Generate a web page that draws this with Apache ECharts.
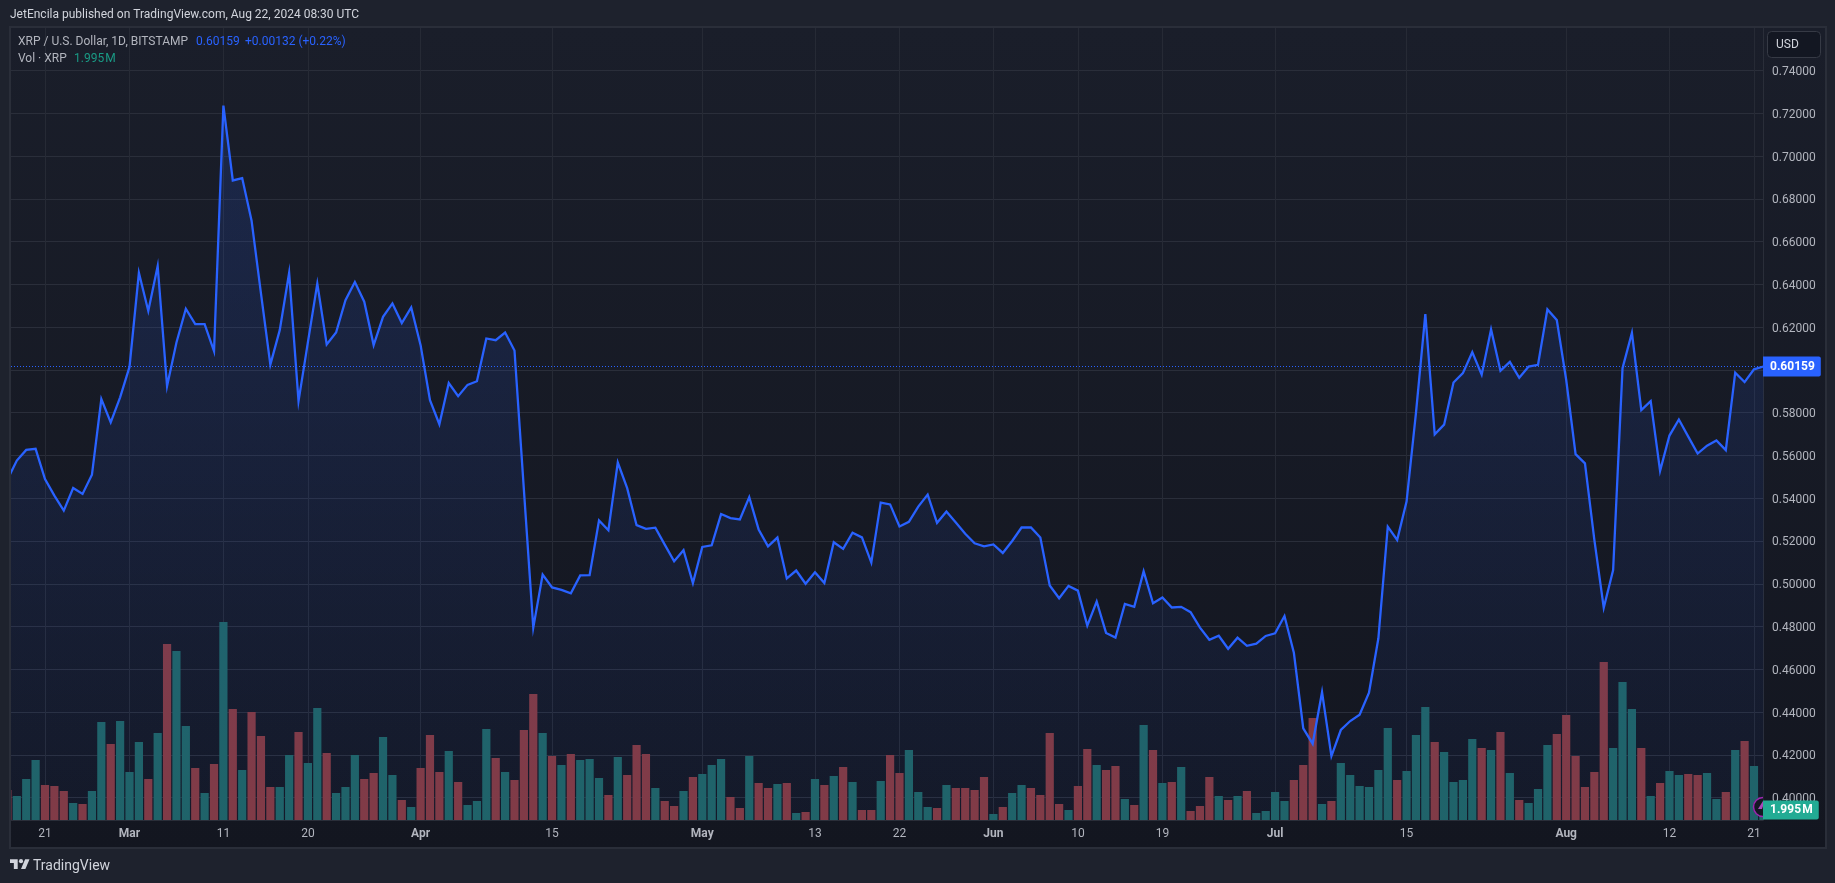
<!DOCTYPE html>
<html>
<head>
<meta charset="utf-8">
<style>html,body{margin:0;padding:0;background:#1e222d;overflow:hidden}#c{width:1835px;height:883px}</style>
<script src="https://cdn.jsdelivr.net/npm/echarts@6/dist/echarts.min.js"></script>
</head>
<body>
<div id="c"></div>
<script>
const startDate = '2024-02-17';
const closeFeb = [.5487,.5576,.5626,.5631,.5490,.5412,.5342,.5448,.5420,.5510,.5864,.5755,.5872];
const closeMar = [.6014,.6454,.6276,.6486,.5924,.6128,.6286,.6214,.6214,.6088,.7236,.6886,.6897,.6698,.6358,.6025,.6186,.6454,.5854,.6130,.6404,.6119,.6175,.6326,.6411,.6319,.6116,.6248,.6311,.6219,.6292];
const closeApr = [.6116,.5858,.5746,.5939,.5877,.5930,.5947,.6147,.6139,.6175,.6091,.5440,.4795,.5043,.4983,.4971,.4955,.5039,.5040,.5296,.5250,.5567,.5447,.5274,.5257,.5262,.5183,.5105,.5157,.5003];
const closeMay = [.5172,.5180,.5326,.5307,.5301,.5405,.5254,.5175,.5216,.5025,.5062,.5000,.5054,.5003,.5194,.5163,.5239,.5217,.5099,.5380,.5371,.5268,.5290,.5361,.5417,.5285,.5338,.5287,.5234,.5189,.5175];
const closeJun = [.5184,.5144,.5200,.5263,.5263,.5216,.4992,.4932,.4990,.4968,.4804,.4917,.4770,.4748,.4906,.4892,.5058,.4909,.4936,.4889,.4892,.4867,.4795,.4738,.4757,.4696,.4748,.4710,.4720,.4756];
const closeJul = [.4768,.4849,.4677,.4324,.4252,.4493,.4194,.4316,.4358,.4388,.4491,.4745,.5267,.5205,.5384,.5798,.6261,.5699,.5744,.5941,.5985,.6083,.5978,.6189,.5996,.6038,.5963,.6016,.6024,.6283,.6233];
const closeAug = [.5954,.5606,.5563,.5205,.4888,.5064,.6008,.6173,.5812,.5854,.5528,.5693,.5768,.5688,.5609,.5646,.5670,.5625,.5987,.5943,.60027,.60159];

const volFeb = [6.0,4.8,8.2,12.0,7.0,6.8,5.8,3.4,3.2,5.8,19.6,15.2,19.8];
const volMar = [9.6,15.6,8.2,17.4,35.2,33.8,18.8,10.4,5.4,11.2,39.6,22.2,10.0,21.6,16.8,6.6,6.6,13.0,17.6,11.4,22.4,13.4,5.4,6.6,13.0,8.2,9.4,16.6,9.0,4.0,2.6];
const volApr = [10.4,17.0,9.6,13.8,7.6,3.0,3.8,18.2,12.4,9.6,8.0,18.0,25.2,17.4,12.8,11.0,13.2,12.0,12.2,8.4,5.0,12.6,9.0,15.0,13.2,6.4,3.8,2.8,5.8,8.6];
const volMay = [9.2,11.0,12.2,4.6,2.4,12.8,7.4,6.4,7.2,7.4,1.4,1.6,8.2,7.0,8.8,10.6,7.6,2.0,2.0,7.8,13.0,9.4,14.0,5.6,2.6,2.4,7.0,6.4,6.4,6.0,8.6];
const volJun = [1.2,2.6,5.4,7.0,6.4,5.0,17.4,3.2,2.0,6.8,14.2,11.0,10.0,10.8,4.2,3.0,19.0,14.0,7.4,7.6,10.6,1.8,2.8,8.6,4.8,4.0,4.8,5.8,1.4,1.8];
const volJul = [5.6,3.8,8.0,11.0,20.4,3.2,3.8,11.4,9.0,6.8,6.6,10.0,18.4,8.0,9.8,17.0,22.6,15.6,13.6,7.6,8.0,16.2,14.4,14.0,17.6,9.4,4.0,3.4,6.2,15.0,17.2];
const volAug = [21.0,12.8,6.6,9.6,31.6,14.4,27.6,22.2,14.4,4.8,7.4,9.8,9.0,9.2,9.0,9.4,4.2,5.6,14.0,15.8,10.8,1.995];

const upFeb = [0,1,1,1,0,0,0,1,0,1,1,0,1];
const upMar = [1,1,0,1,0,1,1,0,1,0,1,0,1,0,0,0,1,1,0,1,1,0,1,1,1,0,0,1,1,0,1];
const upApr = [0,0,0,1,0,1,1,1,0,1,0,0,0,1,0,1,0,1,1,1,0,1,0,0,0,1,0,0,1,0];
const upMay = [1,1,1,0,0,1,0,0,1,0,1,0,1,0,1,0,1,0,0,1,0,0,1,1,1,0,1,0,0,0,0];
const upJun = [1,0,1,1,0,0,0,0,1,0,0,1,0,0,1,0,1,0,1,0,1,0,0,0,1,0,1,0,1,1];
const upJul = [1,1,0,0,0,1,0,1,1,1,1,1,1,0,1,1,1,0,1,1,1,1,0,1,0,1,0,1,1,1,0];
const upAug = [0,0,0,0,0,1,1,1,0,1,0,1,1,0,0,1,1,0,1,0,1,1];

const xTickDates = ['2024-02-21','2024-03-01','2024-03-11','2024-03-20','2024-04-01','2024-04-15','2024-05-01','2024-05-13','2024-05-22','2024-06-01','2024-06-10','2024-06-19','2024-07-01','2024-07-15','2024-08-01','2024-08-12','2024-08-21'];
const xTickLabels = ['21','Mar','11','20','Apr','15','May','13','22','Jun','10','19','Jul','15','Aug','12','21'];
const yTicks = [0.40,0.42,0.44,0.46,0.48,0.50,0.52,0.54,0.56,0.58,0.60,0.62,0.64,0.66,0.68,0.70,0.72,0.74];
const lastPrice = 0.60159;
const lastVolume = 1.995;

const DAY = 864e5;
const t0 = Date.parse(startDate + 'T00:00:00Z');
const prices = [].concat(closeFeb, closeMar, closeApr, closeMay, closeJun, closeJul, closeAug);
const volumes = [].concat(volFeb, volMar, volApr, volMay, volJun, volJul, volAug);
const ups = [].concat(upFeb, upMar, upApr, upMay, upJun, upJul, upAug);
const times = prices.map((_, i) => t0 + i * DAY);
const tickTimes = xTickDates.map(d => Date.parse(d + 'T00:00:00Z'));
const labelOf = {};
tickTimes.forEach((t, i) => labelOf[t] = xTickLabels[i]);

const UI = 'Roboto, sans-serif';
const xMin = Date.parse('2024-02-21T00:00:00Z') - 3.62 * DAY;
const xMax = xMin + 186.58 * DAY;

const text = (x, y, s, fill, extra) => ({
  type: 'text', x, y, z: 20, silent: true,
  style: Object.assign({ text: s, fill, font: '12px ' + UI, textVerticalAlign: 'middle' }, extra || {})
});

const chart = echarts.init(document.getElementById('c'), null, { renderer: 'canvas' });
chart.setOption({
  backgroundColor: '#1e222d',
  animation: false,
  textStyle: { fontFamily: UI },
  grid: { left: 11, top: 28, width: 1752, height: 792, show: false },
  xAxis: {
    type: 'value', min: xMin, max: xMax,
    axisLine: { show: true, onZero: false, lineStyle: { color: '#2a2e39', width: 1 } },
    axisTick: { show: false, customValues: tickTimes },
    splitLine: { show: true, lineStyle: { color: '#262a35', width: 1 } },
    axisLabel: {
      customValues: tickTimes, color: '#b2b5be', fontSize: 12, margin: 8, hideOverlap: false,
      formatter: v => {
        const s = labelOf[v];
        return /^[A-Z]/.test(s) ? '{m|' + s + '}' : s;
      },
      rich: { m: { fontWeight: 'bold', color: '#b2b5be', fontSize: 12, fontFamily: UI } }
    }
  },
  yAxis: [{
    type: 'value', position: 'right', min: 0.38952, max: 0.7599, scale: true,
    axisLine: { show: true, onZero: false, lineStyle: { color: '#2a2e39', width: 1 } },
    axisTick: { show: false, customValues: yTicks },
    splitLine: { show: true, lineStyle: { color: '#2a2e3a', width: 1 } },
    axisLabel: {
      customValues: yTicks, color: '#b2b5be', fontSize: 12, margin: 9,
      formatter: v => '{t|' + v.toFixed(5) + '}',
      rich: { t: { color: '#b2b5be', fontSize: 12, fontFamily: UI, padding: [3, 0, 0, 0] } }
    }
  }, {
    type: 'value', position: 'right', min: 0, max: 158.4, show: false, splitLine: { show: false }
  }],
  series: [{
    type: 'bar', name: 'Vol', xAxisIndex: 0, yAxisIndex: 1, barWidth: 8.2, z: 2, silent: true,
    data: times.map((t, i) => ({ value: [t, volumes[i]], itemStyle: { color: ups[i] ? '#1f6363' : '#84393f' } })),
    markLine: {
      silent: true, symbol: 'none', animation: false, z: 12, precision: 5,
      lineStyle: { color: 'rgba(0,0,0,0)', width: 1 },
      label: {
        show: true, position: 'end', distance: 0, formatter: '1.995\u200aM', color: '#ffffff', fontSize: 12, fontWeight: 'bold',
        backgroundColor: '#22ab94', padding: [4, 6, 3, 7], borderRadius: [0, 2, 2, 0]
      },
      data: [{ yAxis: lastVolume }]
    }
  }, {
    type: 'line', name: 'XRP', xAxisIndex: 0, yAxisIndex: 0, z: 3, silent: true,
    data: times.map((t, i) => [t, prices[i]]),
    showSymbol: false, symbol: 'none', smooth: false,
    lineStyle: { color: '#2962ff', width: 2.3, join: 'miter' },
    areaStyle: {
      origin: 'start',
      color: { type: 'linear', x: 0, y: 0, x2: 0, y2: 1, colorStops: [
        { offset: 0, color: 'rgba(41,98,255,0.22)' }, { offset: 1, color: 'rgba(41,98,255,0.06)' } ] }
    },
    markLine: {
      silent: true, symbol: 'none', animation: false, z: 12, precision: 5,
      lineStyle: { color: '#2962ff', type: [1, 2], width: 1, opacity: 1 },
      label: {
        show: true, position: 'end', distance: 0, formatter: '0.60159', color: '#ffffff', fontSize: 12, fontWeight: 'bold',
        backgroundColor: '#2962ff', padding: [4, 6, 4, 7], borderRadius: [0, 2, 2, 0]
      },
      data: [{ yAxis: lastPrice }]
    }
  }],
  graphic: { elements: [
    { type: 'rect', z: -10, silent: true, shape: { x: 10, y: 27, width: 1816, height: 821 },
      style: { fill: { type: 'linear', x: 0, y: 0, x2: 0, y2: 1, colorStops: [
        { offset: 0, color: '#1a1e2a' }, { offset: 1, color: '#131620' } ] }, stroke: '#2a2e39', lineWidth: 2 } },
    // bars at the two open ends of the time scale are cut off by the panel frame and the price scale
    { type: 'rect', z: 5, silent: true, shape: { x: 0, y: 28, width: 9, height: 793 }, style: { fill: '#1e222d' } },
    { type: 'rect', z: 5, silent: true, shape: { x: 9, y: 28, width: 2, height: 793 }, style: { fill: '#2a2e39' } },
    { type: 'rect', z: 5, silent: true, shape: { x: 1763.5, y: 790, width: 6, height: 30 }, style: { fill: '#141721' } },
    text(10, 15, 'JetEncila published on TradingView.com, Aug 22, 2024 08:30 UTC', '#d1d4dc'),
    text(18, 42, 'XRP / U.S. Dollar, 1D, BITSTAMP', '#b2b5be'),
    text(196, 42, '0.60159', '#2962ff'),
    text(245, 42, '+0.00132 (+0.22%)', '#2962ff'),
    text(18, 59, 'Vol · XRP', '#b2b5be'),
    text(74, 59, '1.995\u200aM', '#1a9a85'),
    { type: 'rect', z: 19, silent: true, shape: { x: 1767.5, y: 31.5, width: 53, height: 26, r: 4 },
      style: { fill: '#131722', stroke: '#363a45', lineWidth: 1 } },
    text(1776, 45, 'USD', '#d1d4dc'),
    text(33, 866, 'TradingView', '#d1d4dc', { font: '14px ' + UI }),
    { type: 'polygon', z: 20, silent: true, x: 10, y: 857, scaleX: 0.55, scaleY: 0.55,
      shape: { points: [[0, 4], [14, 4], [14, 22], [7, 22], [7, 11], [0, 11]] }, style: { fill: '#d1d4dc' } },
    { type: 'polygon', z: 20, silent: true, x: 10, y: 857, scaleX: 0.55, scaleY: 0.55,
      shape: { points: [[20, 22], [27.5, 4], [35.5, 4], [28, 22]] }, style: { fill: '#d1d4dc' } },
    { type: 'circle', z: 20, silent: true, x: 10, y: 857, scaleX: 0.55, scaleY: 0.55,
      shape: { cx: 20, cy: 7.5, r: 3.8 }, style: { fill: '#d1d4dc' } },
    { type: 'sector', z: 9, silent: true, shape: { cx: 1763, cy: 807, r: 10, startAngle: Math.PI / 2, endAngle: Math.PI * 1.5 },
      style: { fill: '#131722' } },
    { type: 'arc', z: 9, silent: true, shape: { cx: 1763, cy: 807, r: 9.5, startAngle: Math.PI / 2, endAngle: Math.PI * 1.5 },
      style: { stroke: '#9c27b0', lineWidth: 1.5, fill: 'none' } },
    { type: 'polygon', z: 9, silent: true, shape: { points: [[1763, 801], [1758, 809], [1762, 809], [1763, 806]] },
      style: { fill: '#ab47bc' } }
  ] }
});
</script>
</body>
</html>
